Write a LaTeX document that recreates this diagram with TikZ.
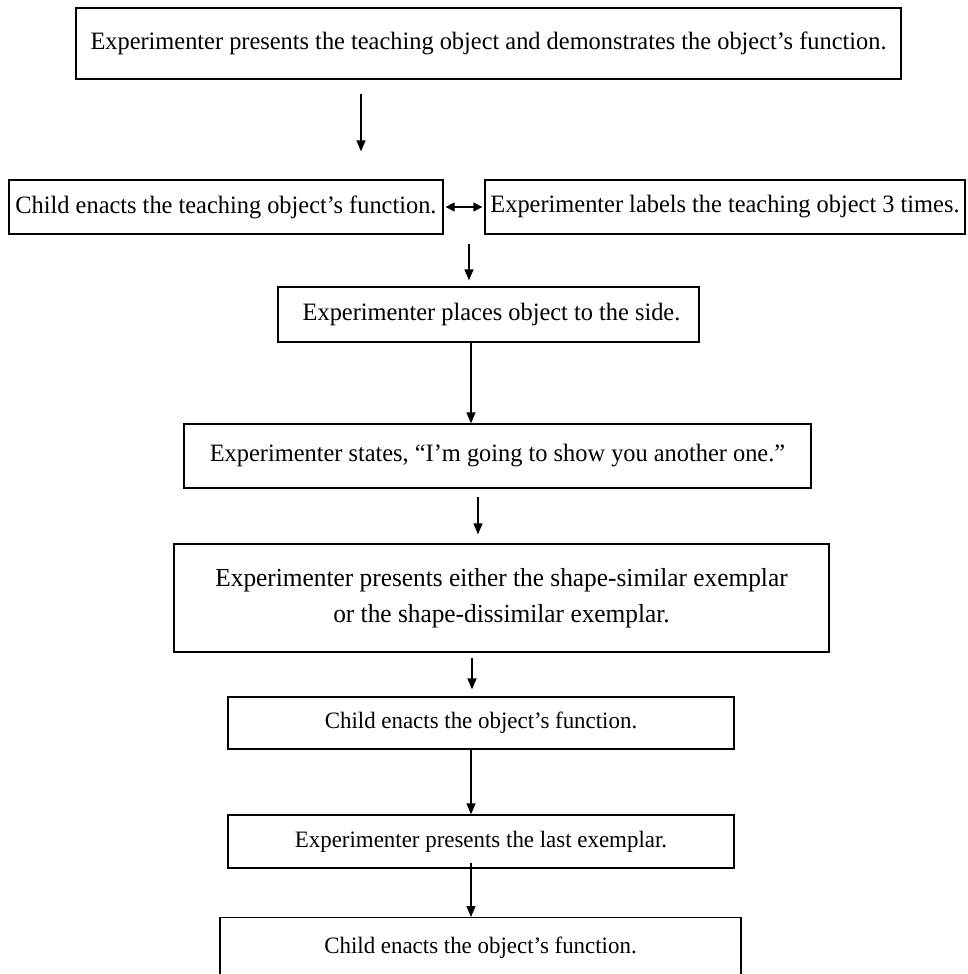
\documentclass[tikz,border=0pt]{standalone}
\usepackage{fontspec}
\setmainfont{Liberation Serif}[FakeStretch=0.975]
\usetikzlibrary{arrows.meta,calc}
\begin{document}
\begin{tikzpicture}[x=1pt,y=-1pt,
  box/.style={draw,line width=1.3pt,rectangle,inner sep=0pt,font=\fontsize{25}{36}\selectfont},
  smallbox/.style={box,font=\fontsize{23.5}{30}\selectfont},
  arr/.style={line width=1.3pt,-{Triangle[length=11pt,width=9pt]}},
  darr/.style={line width=1.3pt,{Triangle[length=9pt,width=9pt]}-{Triangle[length=9pt,width=9pt]}}]
\useasboundingbox (0,0) rectangle (968,974);
\clip (0,0) rectangle (968,974);
\fill[white] (0,0) rectangle (968,974);
\node[box,minimum width=825,minimum height=71] (n1) at (488.5,43.5) {Experimenter presents the teaching object and demonstrates the object’s function.};
\node[box,minimum width=434,minimum height=54] (n2a) at (226,207) {Child enacts the teaching object’s function.};
\node[box,minimum width=480,minimum height=54] (n2b) at (725,207) {Experimenter labels the teaching object 3 times.};
\node[box,minimum width=421,minimum height=55] (n3) at (488.5,314.5) {\hspace*{6pt}Experimenter places object to the side.};
\node[box,minimum width=627,minimum height=64] (n4) at (497.5,456) {Experimenter states, “I’m going to show you another one.”};
\node[box,minimum width=655,minimum height=108,align=center,font=\fontsize{26}{36}\selectfont] (n5) at (501.5,598) {Experimenter presents either the shape-similar exemplar\\or the shape-dissimilar exemplar.};
\node[smallbox,minimum width=506,minimum height=52] (n6) at (481,723) {Child enacts the object’s function.};
\node[smallbox,minimum width=506,minimum height=53] (n7) at (481,841.5) {Experimenter presents the last exemplar.};
\node[smallbox,minimum width=521,minimum height=60,anchor=north] (n8) at (480.5,917) {Child enacts the object’s function.};
\coordinate (c1) at (361,0);
\coordinate (c2) at (469,0);
\coordinate (c3) at (471,0);
\coordinate (c4) at (478,0);
\coordinate (c5) at (472,0);
\coordinate (c6) at (471,0);
\coordinate (c7) at (471,0);
\draw[arr,shorten <=14pt,shorten >=28pt] (c1 |- n1.south) -- (c1 |- n2a.north);
\draw[darr,shorten <=2pt,shorten >=2pt] (n2a.east) -- (n2b.west);
\draw[arr,shorten <=9pt,shorten >=6pt] (c2 |- n2a.south) -- (c2 |- n3.north);
\draw[arr] (c3 |- n3.south) -- (c3 |- n4.north);
\draw[arr,shorten <=8pt,shorten >=9pt] (c4 |- n4.south) -- (c4 |- n5.north);
\draw[arr,shorten <=5pt,shorten >=7pt] (c5 |- n5.south) -- (c5 |- n6.north);
\draw[arr] (c6 |- n6.south) -- (c6 |- n7.north);
\draw[arr,shorten <=-6pt] (c7 |- n7.south) -- (c7 |- n8.north);
\end{tikzpicture}
\end{document}
